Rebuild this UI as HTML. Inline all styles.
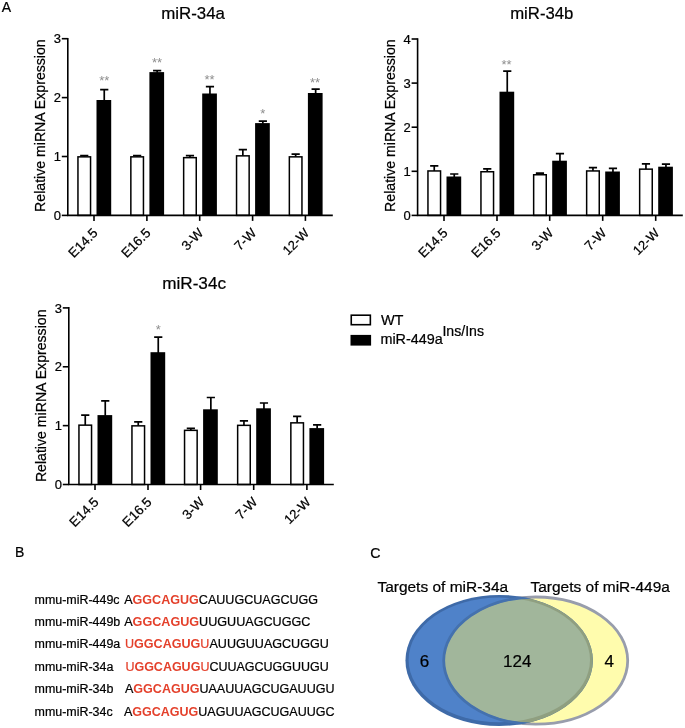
<!DOCTYPE html>
<html lang="en"><head><meta charset="utf-8"><title>Figure</title>
<style>html,body{margin:0;padding:0;background:#fff}svg{display:block}text{font-family:'Liberation Sans', Arial, Helvetica, sans-serif;fill:#000;stroke:#000;stroke-width:0.22px}.ns{fill:#8e8e8e;stroke:none}</style>
</head><body>
<svg width="685" height="728" viewBox="0 0 685 728">
<rect width="685" height="728" fill="#fff"/>
<text x="1.8" y="12" font-size="14">A</text>
<text x="15" y="557.1" font-size="14">B</text>
<text x="370.2" y="557.5" font-size="14.2">C</text>
<text x="193.1" y="18.8" font-size="16.6" text-anchor="middle" textLength="63.8" lengthAdjust="spacingAndGlyphs">miR-34a</text>
<path d="M84.25 156.80V155.60M80.15 155.60H88.35" stroke="#000" stroke-width="1.7" fill="none"/>
<path d="M104.25 100.70V89.70M100.15 89.70H108.35" stroke="#000" stroke-width="1.7" fill="none"/>
<rect x="77.95" y="156.85" width="12.60" height="58.55" fill="#fff" stroke="#000" stroke-width="1.5"/>
<rect x="96.50" y="100.00" width="14.70" height="115.40" fill="#000"/>
<path d="M137.15 156.80V155.60M133.05 155.60H141.25" stroke="#000" stroke-width="1.7" fill="none"/>
<path d="M157.15 72.80V70.60M153.05 70.60H161.25" stroke="#000" stroke-width="1.7" fill="none"/>
<rect x="130.85" y="156.85" width="12.60" height="58.55" fill="#fff" stroke="#000" stroke-width="1.5"/>
<rect x="149.40" y="72.10" width="14.70" height="143.30" fill="#000"/>
<path d="M189.95 157.60V155.60M185.85 155.60H194.05" stroke="#000" stroke-width="1.7" fill="none"/>
<path d="M209.95 94.20V86.70M205.85 86.70H214.05" stroke="#000" stroke-width="1.7" fill="none"/>
<rect x="183.65" y="157.65" width="12.60" height="57.75" fill="#fff" stroke="#000" stroke-width="1.5"/>
<rect x="202.20" y="93.50" width="14.70" height="121.90" fill="#000"/>
<path d="M242.85 155.80V149.60M238.75 149.60H246.95" stroke="#000" stroke-width="1.7" fill="none"/>
<path d="M262.85 123.80V121.10M258.75 121.10H266.95" stroke="#000" stroke-width="1.7" fill="none"/>
<rect x="236.55" y="155.85" width="12.60" height="59.55" fill="#fff" stroke="#000" stroke-width="1.5"/>
<rect x="255.10" y="123.10" width="14.70" height="92.30" fill="#000"/>
<path d="M295.65 156.80V154.10M291.55 154.10H299.75" stroke="#000" stroke-width="1.7" fill="none"/>
<path d="M315.65 93.70V89.20M311.55 89.20H319.75" stroke="#000" stroke-width="1.7" fill="none"/>
<rect x="289.35" y="156.85" width="12.60" height="58.55" fill="#fff" stroke="#000" stroke-width="1.5"/>
<rect x="307.90" y="93.00" width="14.70" height="122.40" fill="#000"/>
<path d="M67.8 37.90V216.20M67.00 215.4H332.8" stroke="#000" stroke-width="1.6" fill="none"/>
<path d="M61.8 215.40H67.8" stroke="#000" stroke-width="1.6"/>
<text x="61.00" y="220.05" font-size="13" text-anchor="end">0</text>
<path d="M61.8 156.50H67.8" stroke="#000" stroke-width="1.6"/>
<text x="61.00" y="161.15" font-size="13" text-anchor="end">1</text>
<path d="M61.8 97.60H67.8" stroke="#000" stroke-width="1.6"/>
<text x="61.00" y="102.25" font-size="13" text-anchor="end">2</text>
<path d="M61.8 38.70H67.8" stroke="#000" stroke-width="1.6"/>
<text x="61.00" y="43.35" font-size="13" text-anchor="end">3</text>
<path d="M94 215.4V220.9" stroke="#000" stroke-width="1.6"/>
<text transform="translate(98.60 233.80) rotate(-45)" font-size="13.4" text-anchor="end">E14.5</text>
<path d="M146.9 215.4V220.9" stroke="#000" stroke-width="1.6"/>
<text transform="translate(151.50 233.80) rotate(-45)" font-size="13.4" text-anchor="end">E16.5</text>
<path d="M199.7 215.4V220.9" stroke="#000" stroke-width="1.6"/>
<text transform="translate(204.30 233.80) rotate(-45)" font-size="13.4" text-anchor="end">3-W</text>
<path d="M252.6 215.4V220.9" stroke="#000" stroke-width="1.6"/>
<text transform="translate(257.20 233.80) rotate(-45)" font-size="13.4" text-anchor="end">7-W</text>
<path d="M305.4 215.4V220.9" stroke="#000" stroke-width="1.6"/>
<text transform="translate(310.00 233.80) rotate(-45)" font-size="13.0" text-anchor="end">12-W</text>
<text x="104.20" y="84.70" font-size="13" text-anchor="middle" fill="#939393" class="ns">**</text>
<text x="157.10" y="67.20" font-size="13" text-anchor="middle" fill="#939393" class="ns">**</text>
<text x="209.50" y="84.20" font-size="13" text-anchor="middle" fill="#939393" class="ns">**</text>
<text x="262.80" y="117.50" font-size="13" text-anchor="middle" fill="#939393" class="ns">*</text>
<text x="315.00" y="86.90" font-size="13" text-anchor="middle" fill="#939393" class="ns">**</text>
<text transform="translate(45 211.9) rotate(-90)" font-size="15.2" textLength="172.6" lengthAdjust="spacingAndGlyphs">Relative miRNA Expression</text>
<text x="541.8" y="18.8" font-size="16.6" text-anchor="middle" textLength="63.2" lengthAdjust="spacingAndGlyphs">miR-34b</text>
<path d="M434.25 170.90V165.90M430.15 165.90H438.35" stroke="#000" stroke-width="1.7" fill="none"/>
<path d="M454.25 177.20V174.00M450.15 174.00H458.35" stroke="#000" stroke-width="1.7" fill="none"/>
<rect x="427.95" y="170.95" width="12.60" height="44.45" fill="#fff" stroke="#000" stroke-width="1.5"/>
<rect x="446.50" y="176.50" width="14.70" height="38.90" fill="#000"/>
<path d="M487.25 171.70V168.90M483.15 168.90H491.35" stroke="#000" stroke-width="1.7" fill="none"/>
<path d="M507.25 92.40V71.10M503.15 71.10H511.35" stroke="#000" stroke-width="1.7" fill="none"/>
<rect x="480.95" y="171.75" width="12.60" height="43.65" fill="#fff" stroke="#000" stroke-width="1.5"/>
<rect x="499.50" y="91.70" width="14.70" height="123.70" fill="#000"/>
<path d="M539.95 174.70V173.20M535.85 173.20H544.05" stroke="#000" stroke-width="1.7" fill="none"/>
<path d="M559.95 161.40V153.60M555.85 153.60H564.05" stroke="#000" stroke-width="1.7" fill="none"/>
<rect x="533.65" y="174.75" width="12.60" height="40.65" fill="#fff" stroke="#000" stroke-width="1.5"/>
<rect x="552.20" y="160.70" width="14.70" height="54.70" fill="#000"/>
<path d="M592.95 170.90V167.70M588.85 167.70H597.05" stroke="#000" stroke-width="1.7" fill="none"/>
<path d="M612.95 172.20V168.40M608.85 168.40H617.05" stroke="#000" stroke-width="1.7" fill="none"/>
<rect x="586.65" y="170.95" width="12.60" height="44.45" fill="#fff" stroke="#000" stroke-width="1.5"/>
<rect x="605.20" y="171.50" width="14.70" height="43.90" fill="#000"/>
<path d="M645.95 169.10V163.90M641.85 163.90H650.05" stroke="#000" stroke-width="1.7" fill="none"/>
<path d="M665.95 167.40V164.20M661.85 164.20H670.05" stroke="#000" stroke-width="1.7" fill="none"/>
<rect x="639.65" y="169.15" width="12.60" height="46.25" fill="#fff" stroke="#000" stroke-width="1.5"/>
<rect x="658.20" y="166.70" width="14.70" height="48.70" fill="#000"/>
<path d="M417.6 38.20V216.20M416.80 215.4H682.8" stroke="#000" stroke-width="1.6" fill="none"/>
<path d="M411.6 215.40H417.6" stroke="#000" stroke-width="1.6"/>
<text x="410.80" y="220.05" font-size="13" text-anchor="end">0</text>
<path d="M411.6 171.30H417.6" stroke="#000" stroke-width="1.6"/>
<text x="410.80" y="175.95" font-size="13" text-anchor="end">1</text>
<path d="M411.6 127.20H417.6" stroke="#000" stroke-width="1.6"/>
<text x="410.80" y="131.85" font-size="13" text-anchor="end">2</text>
<path d="M411.6 83.10H417.6" stroke="#000" stroke-width="1.6"/>
<text x="410.80" y="87.75" font-size="13" text-anchor="end">3</text>
<path d="M411.6 39.00H417.6" stroke="#000" stroke-width="1.6"/>
<text x="410.80" y="43.65" font-size="13" text-anchor="end">4</text>
<path d="M444 215.4V220.9" stroke="#000" stroke-width="1.6"/>
<text transform="translate(448.60 233.80) rotate(-45)" font-size="13.4" text-anchor="end">E14.5</text>
<path d="M497 215.4V220.9" stroke="#000" stroke-width="1.6"/>
<text transform="translate(501.60 233.80) rotate(-45)" font-size="13.4" text-anchor="end">E16.5</text>
<path d="M549.7 215.4V220.9" stroke="#000" stroke-width="1.6"/>
<text transform="translate(554.30 233.80) rotate(-45)" font-size="13.4" text-anchor="end">3-W</text>
<path d="M602.7 215.4V220.9" stroke="#000" stroke-width="1.6"/>
<text transform="translate(607.30 233.80) rotate(-45)" font-size="13.4" text-anchor="end">7-W</text>
<path d="M655.7 215.4V220.9" stroke="#000" stroke-width="1.6"/>
<text transform="translate(660.30 233.80) rotate(-45)" font-size="13.0" text-anchor="end">12-W</text>
<text x="506.60" y="68.50" font-size="13" text-anchor="middle" fill="#939393" class="ns">**</text>
<text transform="translate(394.5 211.9) rotate(-90)" font-size="15.2" textLength="172.6" lengthAdjust="spacingAndGlyphs">Relative miRNA Expression</text>
<text x="194.1" y="288.6" font-size="16.6" text-anchor="middle" textLength="63.8" lengthAdjust="spacingAndGlyphs">miR-34c</text>
<path d="M85.25 425.10V415.10M81.15 415.10H89.35" stroke="#000" stroke-width="1.7" fill="none"/>
<path d="M105.25 415.80V400.80M101.15 400.80H109.35" stroke="#000" stroke-width="1.7" fill="none"/>
<rect x="78.95" y="425.15" width="12.60" height="59.35" fill="#fff" stroke="#000" stroke-width="1.5"/>
<rect x="97.50" y="415.10" width="14.70" height="69.40" fill="#000"/>
<path d="M138.25 425.80V421.90M134.15 421.90H142.35" stroke="#000" stroke-width="1.7" fill="none"/>
<path d="M158.25 352.90V337.10M154.15 337.10H162.35" stroke="#000" stroke-width="1.7" fill="none"/>
<rect x="131.95" y="425.85" width="12.60" height="58.65" fill="#fff" stroke="#000" stroke-width="1.5"/>
<rect x="150.50" y="352.20" width="14.70" height="132.30" fill="#000"/>
<path d="M190.85 430.30V428.40M186.75 428.40H194.95" stroke="#000" stroke-width="1.7" fill="none"/>
<path d="M210.85 410.00V397.50M206.75 397.50H214.95" stroke="#000" stroke-width="1.7" fill="none"/>
<rect x="184.55" y="430.35" width="12.60" height="54.15" fill="#fff" stroke="#000" stroke-width="1.5"/>
<rect x="203.10" y="409.30" width="14.70" height="75.20" fill="#000"/>
<path d="M243.95 425.30V420.90M239.85 420.90H248.05" stroke="#000" stroke-width="1.7" fill="none"/>
<path d="M263.95 409.00V403.00M259.85 403.00H268.05" stroke="#000" stroke-width="1.7" fill="none"/>
<rect x="237.65" y="425.35" width="12.60" height="59.15" fill="#fff" stroke="#000" stroke-width="1.5"/>
<rect x="256.20" y="408.30" width="14.70" height="76.20" fill="#000"/>
<path d="M297.15 422.80V416.30M293.05 416.30H301.25" stroke="#000" stroke-width="1.7" fill="none"/>
<path d="M317.15 428.80V424.90M313.05 424.90H321.25" stroke="#000" stroke-width="1.7" fill="none"/>
<rect x="290.85" y="422.85" width="12.60" height="61.65" fill="#fff" stroke="#000" stroke-width="1.5"/>
<rect x="309.40" y="428.10" width="14.70" height="56.40" fill="#000"/>
<path d="M68.8 307.10V485.30M68.00 484.5H333.8" stroke="#000" stroke-width="1.6" fill="none"/>
<path d="M62.8 484.50H68.8" stroke="#000" stroke-width="1.6"/>
<text x="62.00" y="489.15" font-size="13" text-anchor="end">0</text>
<path d="M62.8 425.63H68.8" stroke="#000" stroke-width="1.6"/>
<text x="62.00" y="430.28" font-size="13" text-anchor="end">1</text>
<path d="M62.8 366.77H68.8" stroke="#000" stroke-width="1.6"/>
<text x="62.00" y="371.42" font-size="13" text-anchor="end">2</text>
<path d="M62.8 307.90H68.8" stroke="#000" stroke-width="1.6"/>
<text x="62.00" y="312.55" font-size="13" text-anchor="end">3</text>
<path d="M95 484.5V490.0" stroke="#000" stroke-width="1.6"/>
<text transform="translate(99.60 502.90) rotate(-45)" font-size="13.4" text-anchor="end">E14.5</text>
<path d="M148 484.5V490.0" stroke="#000" stroke-width="1.6"/>
<text transform="translate(152.60 502.90) rotate(-45)" font-size="13.4" text-anchor="end">E16.5</text>
<path d="M200.6 484.5V490.0" stroke="#000" stroke-width="1.6"/>
<text transform="translate(205.20 502.90) rotate(-45)" font-size="13.4" text-anchor="end">3-W</text>
<path d="M253.7 484.5V490.0" stroke="#000" stroke-width="1.6"/>
<text transform="translate(258.30 502.90) rotate(-45)" font-size="13.4" text-anchor="end">7-W</text>
<path d="M306.9 484.5V490.0" stroke="#000" stroke-width="1.6"/>
<text transform="translate(311.50 502.90) rotate(-45)" font-size="13.0" text-anchor="end">12-W</text>
<text x="158.30" y="334.20" font-size="13" text-anchor="middle" fill="#939393" class="ns">*</text>
<text transform="translate(45.7 482.1) rotate(-90)" font-size="15.2" textLength="172.6" lengthAdjust="spacingAndGlyphs">Relative miRNA Expression</text>
<rect x="351.25" y="315.2" width="19.1" height="9.5" fill="#fff" stroke="#000" stroke-width="1.6"/>
<rect x="350.5" y="334.9" width="20.6" height="10.7" fill="#000"/>
<text x="380.9" y="324.6" font-size="14.8" textLength="22.6" lengthAdjust="spacingAndGlyphs">WT</text>
<text x="380.4" y="343.7" font-size="14.4" textLength="62.4" lengthAdjust="spacingAndGlyphs">miR-449a</text>
<text x="442.4" y="335.9" font-size="14.2" textLength="41.6" lengthAdjust="spacingAndGlyphs">Ins/Ins</text>
<text x="34.6" y="603.8" font-size="12.45">mmu-miR-449c</text>
<text x="124.2" y="603.8" font-size="12.5" textLength="193.9" lengthAdjust="spacingAndGlyphs">A<tspan fill="#e4402b" stroke="none" font-weight="bold">GGCAGUG</tspan><tspan stroke="#000">CAUUGCUAGCUGG</tspan></text>
<text x="34.6" y="626.0" font-size="12.45">mmu-miR-449b</text>
<text x="124.2" y="626.0" font-size="12.5" textLength="186.2" lengthAdjust="spacingAndGlyphs">A<tspan fill="#e4402b" stroke="none" font-weight="bold">GGCAGUG</tspan><tspan stroke="#000">UUGUUAGCUGGC</tspan></text>
<text x="34.6" y="648.3" font-size="12.45">mmu-miR-449a</text>
<text x="125.0" y="648.3" font-size="12.5" textLength="203.8" lengthAdjust="spacingAndGlyphs"><tspan fill="#e4402b" stroke="#e4402b">U</tspan><tspan fill="#e4402b" stroke="none" font-weight="bold">GGCAGUG</tspan><tspan fill="#e4402b" stroke="#e4402b">U</tspan><tspan stroke="#000">AUUGUUAGCUGGU</tspan></text>
<text x="34.6" y="671.1" font-size="12.45">mmu-miR-34a</text>
<text x="125.4" y="671.1" font-size="12.5" textLength="203.4" lengthAdjust="spacingAndGlyphs"><tspan fill="#e4402b" stroke="#e4402b">U</tspan><tspan fill="#e4402b" stroke="none" font-weight="bold">GGCAGUG</tspan><tspan fill="#e4402b" stroke="#e4402b">U</tspan><tspan stroke="#000">CUUAGCUGGUUGU</tspan></text>
<text x="34.6" y="693.4" font-size="12.45">mmu-miR-34b</text>
<text x="125.0" y="693.4" font-size="12.5" textLength="209.5" lengthAdjust="spacingAndGlyphs">A<tspan fill="#e4402b" stroke="none" font-weight="bold">GGCAGUG</tspan><tspan stroke="#000">UAAUUAGCUGAUUGU</tspan></text>
<text x="34.6" y="715.8" font-size="12.45">mmu-miR-34c</text>
<text x="124.0" y="715.8" font-size="12.5" textLength="210.5" lengthAdjust="spacingAndGlyphs">A<tspan fill="#e4402b" stroke="none" font-weight="bold">GGCAGUG</tspan><tspan stroke="#000">UAGUUAGCUGAUUGC</tspan></text>
<text x="377.4" y="591.9" font-size="15.3" textLength="130.8" lengthAdjust="spacingAndGlyphs">Targets of miR-34a</text>
<text x="530.5" y="591.9" font-size="15.3" textLength="139.4" lengthAdjust="spacingAndGlyphs">Targets of miR-449a</text>
<defs><clipPath id="cb"><ellipse cx="499.15" cy="660.45" rx="93.7" ry="65.55"/></clipPath><clipPath id="cy"><ellipse cx="535.7" cy="660.6" rx="91" ry="62.6"/></clipPath></defs>
<ellipse cx="535.7" cy="660.6" rx="92" ry="63.6" fill="#fffcad" stroke="#989dac" stroke-width="2.8"/>
<ellipse cx="499.15" cy="660.45" rx="93.7" ry="65.55" fill="#3e6aa8"/>
<ellipse cx="499.3" cy="659.9" rx="90.7" ry="62.4" fill="#4f82c9"/>
<g clip-path="url(#cy)"><ellipse cx="499.15" cy="660.45" rx="93.7" ry="65.55" fill="#8f9f80"/><ellipse cx="499.3" cy="659.9" rx="90.7" ry="62.4" fill="#a1b69b"/></g>
<g clip-path="url(#cb)"><ellipse cx="535.7" cy="660.6" rx="92" ry="63.6" fill="none" stroke="#4471ae" stroke-width="2.8"/></g>
<text x="424.5" y="667" font-size="17" text-anchor="middle">6</text>
<text x="517.3" y="666.9" font-size="17" text-anchor="middle">124</text>
<text x="609.3" y="666.8" font-size="17" text-anchor="middle">4</text>
</svg>
</body></html>
